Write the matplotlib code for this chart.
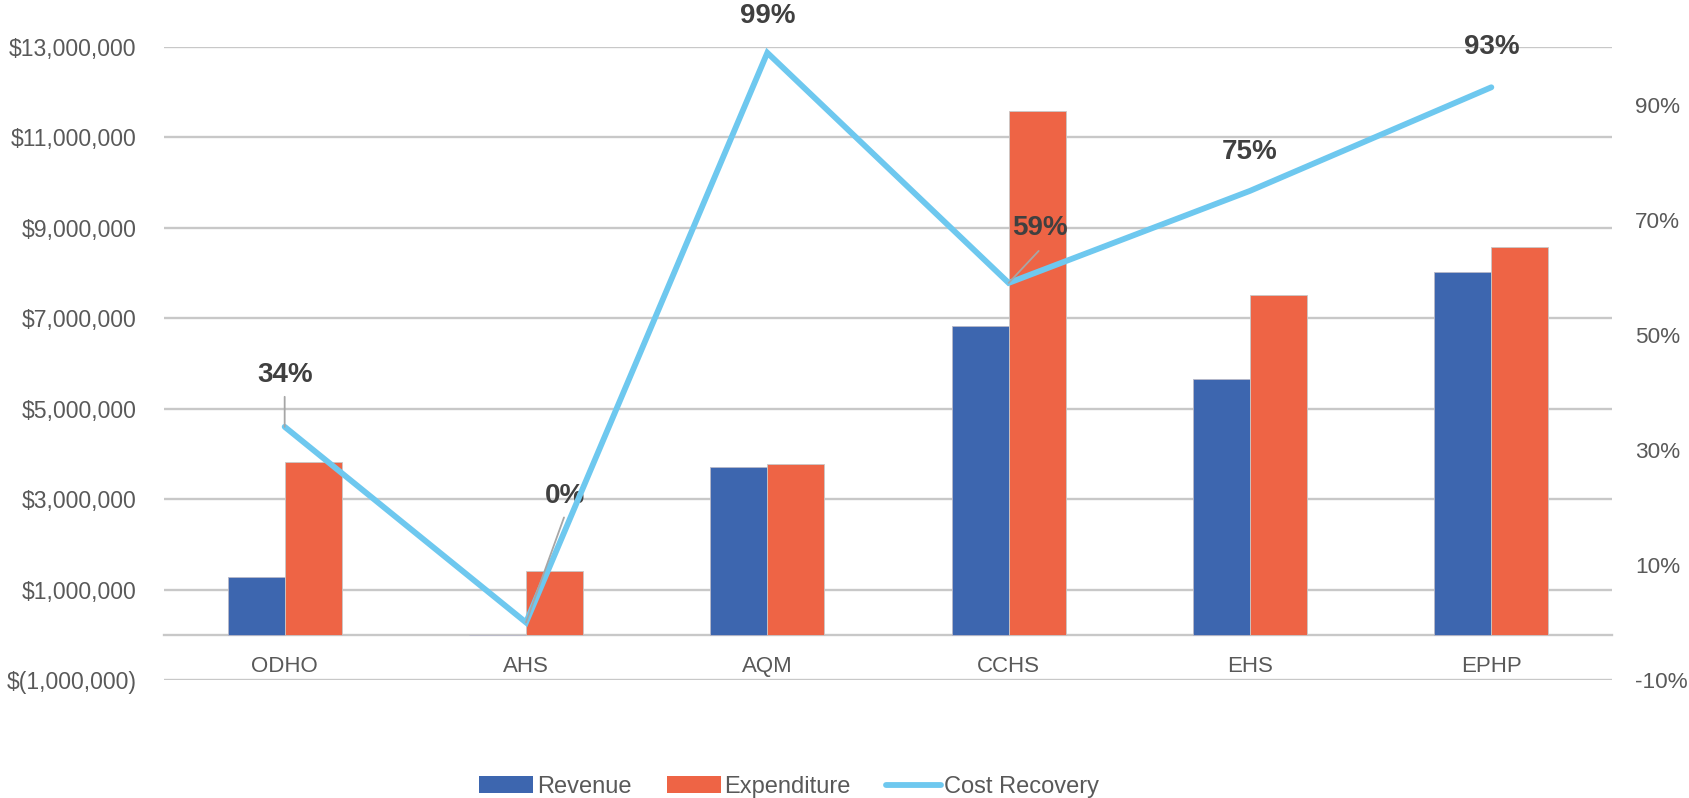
import matplotlib
matplotlib.use("Agg")
import matplotlib.pyplot as plt
from matplotlib.patches import Patch
from matplotlib.lines import Line2D
from matplotlib.ticker import FuncFormatter
import numpy as np

plt.rcParams['font.family'] = ['Liberation Sans', 'DejaVu Sans']

# ---- data ----
categories = ["ODHO", "AHS", "AQM", "CCHS", "EHS", "EPHP"]
revenue = [1280000, 0, 3720000, 6830000, 5660000, 8020000]
expenditure = [3830000, 1420000, 3780000, 11580000, 7510000, 8580000]
cost_recovery = [0.34, 0.00, 0.99, 0.59, 0.75, 0.93]
left_ticks = [-1000000, 1000000, 3000000, 5000000, 7000000, 9000000, 11000000, 13000000]
right_ticks = [-0.10, 0.10, 0.30, 0.50, 0.70, 0.90]

# ---- style ----
C_REV = "#3D66AF"
C_EXP = "#EE6445"
C_LINE = "#6EC8EF"
C_GRID = "#C8C8C8"
C_TXT = "#595959"
C_LBL = "#404040"

W, H = 1690, 798
fig = plt.figure(figsize=(W / 100, H / 100), dpi=100)
ax = fig.add_axes([164 / W, 1 - 680 / H, (1612 - 164) / W, (680 - 47) / H])

x = np.arange(len(categories))
bw = 0.236
ax.bar(x - bw / 2, revenue, bw, color=C_REV, edgecolor="#B8B8C8", linewidth=0.6, zorder=2)
ax.bar(x + bw / 2, expenditure, bw, color=C_EXP, edgecolor="#C8C8C8", linewidth=0.6, zorder=2)

ax.set_xlim(-0.5, len(categories) - 0.5)
ax.set_ylim(-1000000, 13000000)
ax.set_yticks(left_ticks)


def money(v, pos=None):
    if v < 0:
        return "$({:,.0f})".format(-v)
    return "${:,.0f}".format(v)


ax.yaxis.set_major_formatter(FuncFormatter(money))
ax.grid(axis="y", color=C_GRID, linewidth=1.7, zorder=0)
ax.set_axisbelow(True)
for s in ["top", "left", "right"]:
    ax.spines[s].set_visible(False)
ax.spines["bottom"].set_position(("data", 0))
ax.spines["bottom"].set_color(C_GRID)
ax.spines["bottom"].set_linewidth(1.7)
ax.spines["bottom"].set_zorder(1)
ax.set_xticks(x)
ax.set_xticklabels(categories)
ax.tick_params(axis="x", length=0, pad=15, labelsize=16, labelcolor=C_TXT)
ax.tick_params(axis="y", length=0, pad=20, labelsize=16.6, labelcolor=C_TXT)

ax2 = ax.twinx()
ax2.set_ylim(-0.10, 1.00)
ax2.set_yticks(right_ticks)
ax2.yaxis.set_major_formatter(FuncFormatter(lambda v, p: "{:.0f}%".format(round(v * 100))))
for s in ["top", "left", "right", "bottom"]:
    ax2.spines[s].set_visible(False)
ax2.tick_params(axis="y", length=0, pad=16.5, labelsize=16.2, labelcolor=C_TXT)

ax2.plot(x, cost_recovery, color=C_LINE, linewidth=4.2, solid_capstyle="round",
         solid_joinstyle="miter", zorder=4)

# data labels (offsets in pixels -> points)
px = 0.72
offsets = [(0, 52), (39, 126), (0, 37), (31, 55), (0, 39), (0, 40)]
leaders = [(0, 30), (38, 105), None, (30, 32), None, None]
for i, v in enumerate(cost_recovery):
    dx, dy = offsets[i]
    ax2.annotate("{:.0f}%".format(v * 100), xy=(x[i], v), xytext=(dx * px, dy * px),
                 textcoords="offset points", ha="center", va="center",
                 fontsize=20, fontweight="bold", color=C_LBL, zorder=3)
    if leaders[i] is not None:
        lx, ly = leaders[i]
        ax2.annotate("", xy=(x[i], v), xytext=(lx * px, ly * px), textcoords="offset points",
                     arrowprops=dict(arrowstyle="-", color="#A6A6A6", lw=1.3,
                                     shrinkA=0, shrinkB=0), zorder=5)

handles = [Patch(facecolor=C_REV, edgecolor="none"),
           Patch(facecolor=C_EXP, edgecolor="none"),
           Line2D([0], [0], color=C_LINE, linewidth=4.2, solid_capstyle="round")]
fig.legend(handles, ["Revenue", "Expenditure", "Cost Recovery"], loc="center",
           bbox_to_anchor=(789 / W, 1 - 787 / H), ncol=3, frameon=False,
           prop={"size": 17},
           labelcolor=C_TXT, handlelength=2.3, handleheight=0.7, handletextpad=0.15,
           columnspacing=1.5, borderpad=0)

fig.savefig("out.png", dpi=100)
